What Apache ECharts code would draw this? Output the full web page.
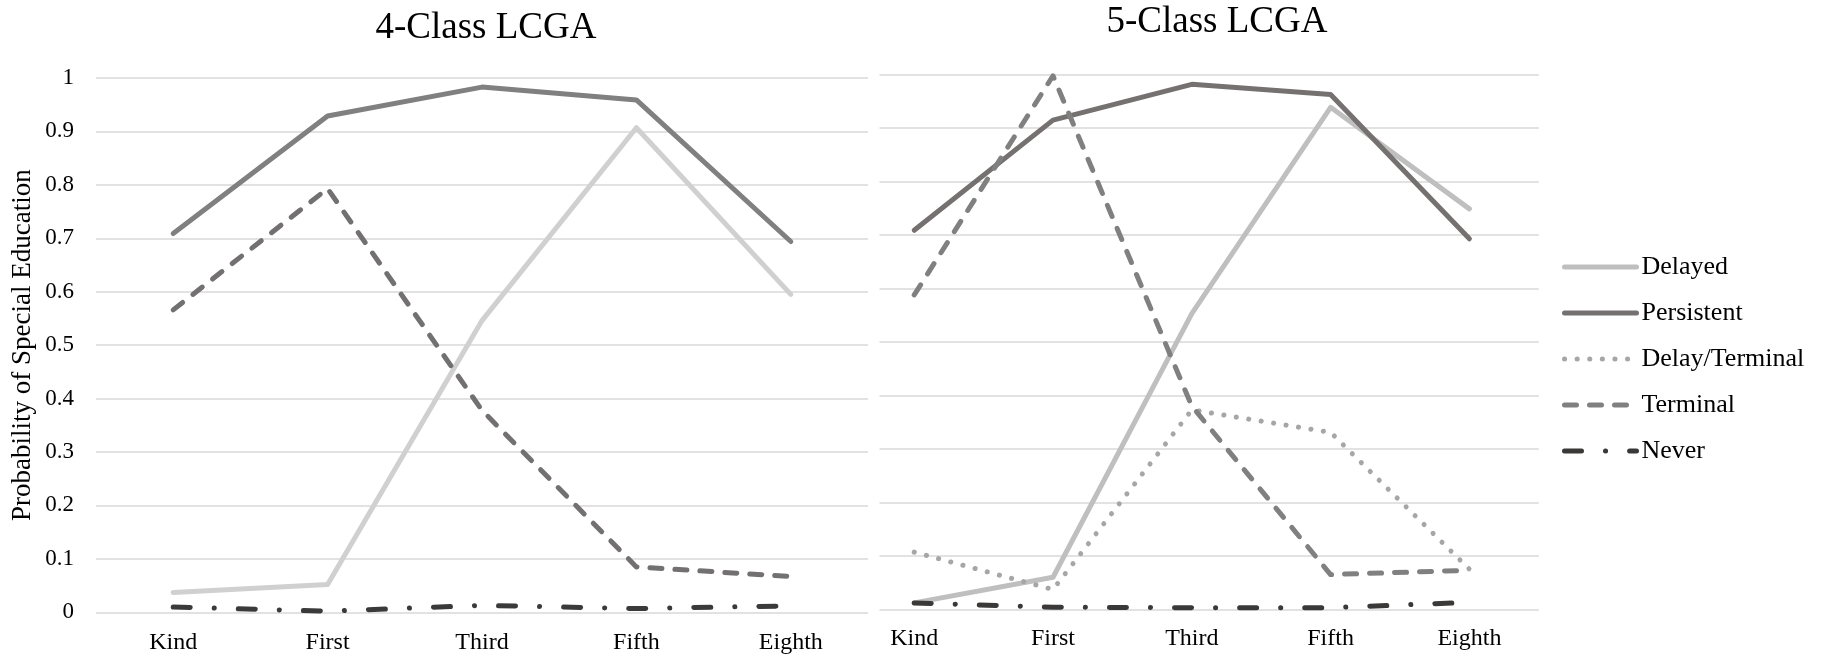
<!DOCTYPE html>
<html>
<head>
<meta charset="utf-8">
<script src="https://cdn.jsdelivr.net/npm/echarts@6/dist/echarts.min.js"></script>
<style>
html,body{margin:0;padding:0;background:#fff;}
#chart{width:1826px;height:657px;}
</style>
</head>
<body>
<div id="chart"></div>
<script>
// ---- data ----
const categories = ['Kind', 'First', 'Third', 'Fifth', 'Eighth'];
const yTicks = [0, 0.1, 0.2, 0.3, 0.4, 0.5, 0.6, 0.7, 0.8, 0.9, 1];

// 4-Class LCGA
const left_delayed    = [0.037, 0.052, 0.546, 0.907, 0.595];
const left_persistent = [0.709, 0.929, 0.983, 0.959, 0.694];
const left_terminal   = [0.566, 0.793, 0.378, 0.085, 0.067];
const left_never      = [0.010, 0.002, 0.013, 0.007, 0.012];

// 5-Class LCGA
const right_delayed       = [0.012, 0.060, 0.553, 0.939, 0.749];
const right_persistent    = [0.709, 0.915, 0.982, 0.963, 0.693];
const right_delayTerminal = [0.107, 0.037, 0.373, 0.331, 0.075];
const right_terminal      = [0.588, 0.998, 0.380, 0.065, 0.073];
const right_never         = [0.012, 0.004, 0.003, 0.003, 0.013];

const titles = ['4-Class LCGA', '5-Class LCGA'];
const yName = 'Probability of Special Education';
const seriesNames = ['Delayed', 'Persistent', 'Delay/Terminal', 'Terminal', 'Never'];

// ---- styles ----
const FONT = '"Liberation Serif", "Times New Roman", serif';
const GRID = '#d9d9d9';
const lineStyles = {
  'Delayed':        {width: 5, type: 'solid'},
  'Persistent':     {width: 5, type: 'solid'},
  'Delay/Terminal': {width: 5, type: [0.1, 12.5]},
  'Terminal':       {width: 5, type: [12, 13]},
  'Never':          {width: 5, type: [17, 24, 0.1, 24]}
};
const leftColors  = {'Delayed': '#d0d0d0', 'Persistent': '#808080', 'Terminal': '#727070', 'Never': '#3a3a3a'};
const rightColors = {'Delayed': '#bfbfbf', 'Persistent': '#767171', 'Delay/Terminal': '#a6a6a6', 'Terminal': '#808080', 'Never': '#3b3838'};

const idx = categories.map((c, i) => i);

function mkSeries(name, data, gi, color, usePairs) {
  const ls = lineStyles[name];
  return {
    name: name,
    type: 'line',
    xAxisIndex: gi, yAxisIndex: gi,
    data: usePairs ? data.map((v, i) => [idx[i], v]) : data,
    symbol: 'none',
    smooth: false,
    color: color,
    lineStyle: {color: color, width: ls.width, type: ls.type, cap: 'round', join: 'round'},
    emphasis: {disabled: true},
    animation: false
  };
}

const rightData = {
  'Delayed': right_delayed, 'Persistent': right_persistent,
  'Delay/Terminal': right_delayTerminal, 'Terminal': right_terminal, 'Never': right_never
};
const leftData = {
  'Delayed': left_delayed, 'Persistent': left_persistent,
  'Terminal': left_terminal, 'Never': left_never
};

const series = [];
seriesNames.forEach(n => { series.push(mkSeries(n, rightData[n], 1, rightColors[n], true)); });
seriesNames.forEach(n => { if (leftData[n]) series.push(mkSeries(n, leftData[n], 0, leftColors[n], false)); });

const chart = echarts.init(document.getElementById('chart'), null, {renderer: 'canvas'});
chart.setOption({
  backgroundColor: '#ffffff',
  animation: false,
  title: [
    {text: titles[0], left: 481, top: 5, textAlign: 'center',
     textStyle: {fontFamily: FONT, fontSize: 37, fontWeight: 'normal', color: '#000'}},
    {text: titles[1], left: 1212, top: -1, textAlign: 'center',
     textStyle: {fontFamily: FONT, fontSize: 37, fontWeight: 'normal', color: '#000'}}
  ],
  legend: {
    orient: 'vertical',
    left: 1557, top: 249,
    itemWidth: 72, itemHeight: 25, itemGap: 20,
    data: seriesNames,
    selectedMode: false,
    itemStyle: {opacity: 0, borderWidth: 0},
    lineStyle: {width: 5},
    textStyle: {fontFamily: FONT, fontSize: 26, color: '#000', padding: [0, 0, 0, 0]}
  },
  grid: [
    {left: 96, top: 78, width: 772, height: 534.3, containLabel: false},
    {left: 879.5, top: 74.7, width: 659.3, height: 534.6, containLabel: false}
  ],
  xAxis: [
    {type: 'category', gridIndex: 0, data: categories, boundaryGap: true,
     axisLine: {show: false}, axisTick: {show: false}, splitLine: {show: false},
     axisLabel: {fontFamily: FONT, fontSize: 24, color: '#000', margin: 18, interval: 0}},
    {type: 'value', gridIndex: 1, min: -0.25, max: 4.5,
     axisLine: {show: false}, axisTick: {show: false}, splitLine: {show: false},
     axisLabel: {fontFamily: FONT, fontSize: 24, color: '#000', margin: 17,
       customValues: idx, formatter: v => categories[Math.round(v)] || ''}}
  ],
  yAxis: [
    {type: 'value', gridIndex: 0, min: 0, max: 1, interval: 0.1,
     name: yName, nameLocation: 'middle', nameGap: 60, nameRotate: 90,
     nameTextStyle: {fontFamily: FONT, fontSize: 27, color: '#000'},
     axisLine: {show: false}, axisTick: {show: false},
     splitLine: {show: true, lineStyle: {color: GRID, width: 1.5}},
     axisLabel: {fontFamily: FONT, fontSize: 23, color: '#000', margin: 22,
       customValues: yTicks, formatter: v => String(Math.round(v * 10) / 10)}},
    {type: 'value', gridIndex: 1, min: 0, max: 1, interval: 0.1,
     axisLine: {show: false}, axisTick: {show: false},
     splitLine: {show: true, lineStyle: {color: GRID, width: 1.5}},
     axisLabel: {show: false}}
  ],
  series: series
});
</script>
</body>
</html>
